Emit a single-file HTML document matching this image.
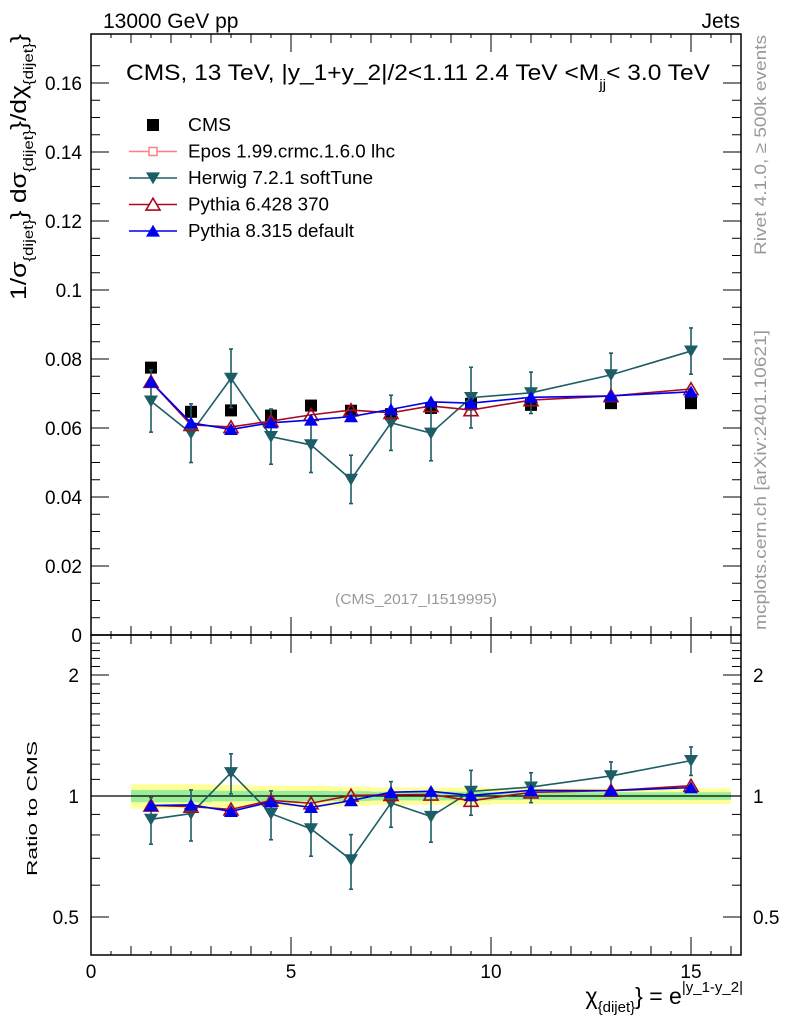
<!DOCTYPE html>
<html><head><meta charset="utf-8"><style>
html,body{margin:0;padding:0;background:#fff}
svg{display:block;font-family:"Liberation Sans",sans-serif}
</style></head><body>
<svg id="c" width="786" height="1024" viewBox="0 0 786 1024" xmlns="http://www.w3.org/2000/svg">
<g id="bands"></g>
<g id="axes"></g>
<g id="marks"></g>
<g id="texts">
<text x="103" y="28" font-size="21">13000 GeV pp</text>
<text x="740" y="28" font-size="21" text-anchor="end">Jets</text>
<text x="126" y="80" font-size="22" textLength="584" lengthAdjust="spacingAndGlyphs">CMS, 13 TeV, |y_1+y_2|/2&lt;1.11 2.4 TeV &lt;M<tspan font-size="14" dy="9">jj</tspan><tspan dy="-9">&lt; 3.0 TeV</tspan></text>
<text x="416" y="604" font-size="15" fill="#999" text-anchor="middle" textLength="162" lengthAdjust="spacingAndGlyphs">(CMS_2017_I1519995)</text>
<text transform="translate(766,255) rotate(-90)" font-size="17" fill="#999" textLength="220" lengthAdjust="spacingAndGlyphs">Rivet 4.1.0, ≥ 500k events</text>
<text transform="translate(766,630) rotate(-90)" font-size="17" fill="#999" textLength="300" lengthAdjust="spacingAndGlyphs">mcplots.cern.ch [arXiv:2401.10621]</text>
<text transform="translate(26,300) rotate(-90)" font-size="22" textLength="266" lengthAdjust="spacingAndGlyphs">1/σ<tspan font-size="14" dy="7">{dijet}</tspan><tspan dy="-7">} dσ</tspan><tspan font-size="14" dy="7">{dijet}</tspan><tspan dy="-7">}/dχ</tspan><tspan font-size="14" dy="7">{dijet}</tspan><tspan dy="-7">}</tspan></text>
<text transform="translate(37,876) rotate(-90)" font-size="15" textLength="135" lengthAdjust="spacingAndGlyphs">Ratio to CMS</text>
<text x="743" y="1004" font-size="23" text-anchor="end">χ<tspan font-size="15" dy="8">{dijet}</tspan><tspan dy="-8">} = e</tspan><tspan font-size="15" dy="-12">|y_1-y_2|</tspan></text>
</g>
<g id="legend"></g>
</svg>
<script>
const xs=[1.5,2.5,3.5,4.5,5.5,6.5,7.5,8.5,9.5,11,13,15];
const binLo=[1,2,3,4,5,6,7,8,9,10,12,14];
const binHi=[2,3,4,5,6,7,8,9,10,12,14,16];
const cms=[0.0775,0.0647,0.0651,0.0636,0.0665,0.065,0.064,0.0658,0.067,0.0667,0.0672,0.0672];
const bandY=[0.07,0.07,0.065,0.06,0.06,0.055,0.05,0.05,0.05,0.045,0.045,0.045];
const bandG=[0.035,0.035,0.03,0.03,0.03,0.028,0.025,0.025,0.025,0.022,0.022,0.022];
const herwig=[0.0678,0.0585,0.0744,0.0575,0.0551,0.0451,0.0615,0.0585,0.0688,0.0702,0.0754,0.0823];
const herwigErr=[0.009,0.0085,0.0085,0.008,0.008,0.007,0.008,0.008,0.0088,0.006,0.0063,0.0067];
const py6=[0.0734,0.0609,0.0603,0.062,0.0638,0.0652,0.0644,0.0664,0.0652,0.0681,0.0693,0.0713];
const py8=[0.0734,0.0615,0.0596,0.0615,0.0623,0.0633,0.0654,0.0676,0.0672,0.0689,0.0693,0.0705];
const mainTicks=[0,0.02,0.04,0.06,0.08,0.1,0.12,0.14,0.16];
const mainTickLabels=["0","0.02","0.04","0.06","0.08","0.1","0.12","0.14","0.16"];
const ratioTicks=[0.5,1,2];
const ratioTickLabels=["0.5","1","2"];
const xTicks=[0,5,10,15];
const xTickLabels=["0","5","10","15"];

const L=91,R=741,T=34,MB=635,RB=955;
const NS="http://www.w3.org/2000/svg";
const X=v=>L+v*40;
const Y=v=>MB-v*3450;
const RY=r=>796-Math.log2(r)*121;
function mk(tag,attrs,parent){const e=document.createElementNS(NS,tag);for(const k in attrs)e.setAttribute(k,attrs[k]);parent.appendChild(e);return e;}
const axes=document.getElementById('axes'),marks=document.getElementById('marks'),bands=document.getElementById('bands'),leg=document.getElementById('legend');

for(let i=0;i<xs.length;i++){
  let b=mk('rect',{x:X(binLo[i]),y:RY(1+bandY[i]),width:X(binHi[i])-X(binLo[i]),height:RY(1-bandY[i])-RY(1+bandY[i]),fill:'#ffff99'},bands);
  
  
  let g=mk('rect',{x:X(binLo[i]),y:RY(1+bandG[i]),width:X(binHi[i])-X(binLo[i]),height:RY(1-bandG[i])-RY(1+bandG[i]),fill:'#99ee99'},bands);
  
  
}
let one=mk('line',{x1:L,x2:R,y1:RY(1),y2:RY(1),stroke:'#000','stroke-width':1.3},bands);



for(const [t,b,n] of [[T,MB,'main-frame'],[MB,RB,'ratio-frame']]){
  let f=mk('rect',{x:L,y:t,width:R-L,height:b-t,fill:'none',stroke:'#000','stroke-width':1.5},axes);
  
  
}
for(let v=0;v<=0.17;v+=0.005){
  const y=Y(v);const major=Math.abs(v/0.02-Math.round(v/0.02))<1e-6;const len=major?18:9;
  mk('line',{x1:L,x2:L+len,y1:y,y2:y,stroke:'#000'},axes);
  mk('line',{x1:R,x2:R-len,y1:y,y2:y,stroke:'#000'},axes);
}
mainTicks.forEach((v,i)=>{
  let t=mk('text',{x:L-9,y:Y(v)+7,'font-size':19,'text-anchor':'end'},axes);t.textContent=mainTickLabels[i];
  
  
});
for(let v=0.4;v<=2.5;v+=0.1){
  const vv=Math.round(v*10)/10;if(vv<0.4)continue;const y=RY(vv);if(y<MB||y>RB)continue;
  const major=(vv===0.5||vv===1||vv===2);const len=major?18:9;
  mk('line',{x1:L,x2:L+len,y1:y,y2:y,stroke:'#000'},axes);
  mk('line',{x1:R,x2:R-len,y1:y,y2:y,stroke:'#000'},axes);
}
ratioTicks.forEach((v,i)=>{
  let t=mk('text',{x:L-12,y:RY(v)+7,'font-size':19,'text-anchor':'end'},axes);t.textContent=ratioTickLabels[i];
  
  
  let t2=mk('text',{x:R+12,y:RY(v)+7,'font-size':19},axes);t2.textContent=ratioTickLabels[i];
  
  
});
for(let v=0;v<=16.2;v+=0.5){
  const x=X(v);const len=(v%5===0)?18:(v%1===0?9:4);
  for(const [yb,dir] of [[MB,-1],[T,1],[RB,-1],[MB,1]]) mk('line',{x1:x,x2:x,y1:yb,y2:yb+dir*len,stroke:'#000'},axes);
}
xTicks.forEach((v,i)=>{
  let t=mk('text',{x:X(v),y:RB+23,'font-size':19,'text-anchor':'middle'},axes);t.textContent=xTickLabels[i];
  
  
});

function tri(cx,cy,s,down){return down?`${cx-s},${cy-s*0.8} ${cx+s},${cy-s*0.8} ${cx},${cy+s*0.9}`:`${cx-s},${cy+s*0.8} ${cx+s},${cy+s*0.8} ${cx},${cy-s*0.9}`;}
function series(vals,err,color,kind,name,ratio){
  const yf=ratio?(i=>RY(vals[i]/cms[i])):(i=>Y(vals[i]));
  const pts=xs.map((x,i)=>X(x)+','+yf(i)).join(' ');
  let pl=mk('polyline',{points:pts,fill:'none',stroke:color,'stroke-width':1.6},marks);
  
  
  xs.forEach((x,i)=>{
    const cx=X(x),cy=yf(i);
    if(err){
      const y1=ratio?RY((vals[i]+err[i])/cms[i]):Y(vals[i]+err[i]);
      const y2=ratio?RY((vals[i]-err[i])/cms[i]):Y(vals[i]-err[i]);
      mk('line',{x1:cx,x2:cx,y1:y1,y2:y2,stroke:color,'stroke-width':1.6},marks);
      mk('line',{x1:cx-2,x2:cx+2,y1:y1,y2:y1,stroke:color,'stroke-width':1.6},marks);
      mk('line',{x1:cx-2,x2:cx+2,y1:y2,y2:y2,stroke:color,'stroke-width':1.6},marks);
    }
    let p;
    if(kind==='down')p=mk('polygon',{points:tri(cx,cy,7,true),fill:color},marks);
    else if(kind==='openup')p=mk('polygon',{points:tri(cx,cy,7,false),fill:'#fff','fill-opacity':0,stroke:color,'stroke-width':1.6},marks);
    else p=mk('polygon',{points:tri(cx,cy,7,false),fill:color},marks);
    
    
  });
}
xs.forEach((x,i)=>{
  let s=mk('rect',{x:X(x)-6,y:Y(cms[i])-6,width:12,height:12,fill:'#000'},marks);
  
  
});
series(herwig,herwigErr,'#1d5e66','down','herwig',false);
series(py6,null,'#aa0a1e','openup','pythia6',false);
series(py8,null,'#0000ee','up','pythia8',false);
series(herwig,herwigErr,'#1d5e66','down','herwig-ratio',true);
series(py6,null,'#aa0a1e','openup','pythia6-ratio',true);
series(py8,null,'#0000ee','up','pythia8-ratio',true);

const legItems=[['CMS','#000','sq',43],['Epos 1.99.crmc.1.6.0 lhc','#ff8080','cross',207],['Herwig 7.2.1 softTune','#1d5e66','down',185],['Pythia 6.428 370','#aa0a1e','openup',141],['Pythia 8.315 default','#0000ee','up',166]];
legItems.forEach((it,i)=>{
  const y=125+i*26.5;const cx=153;
  const g=mk('g',{},leg);
  
  
  if(it[2]==='sq')mk('rect',{x:cx-6,y:y-6,width:12,height:12,fill:'#000'},g);
  else{
    mk('line',{x1:129,x2:177,y1:y,y2:y,stroke:it[1],'stroke-width':1.6},g);
    if(it[2]==='cross')mk('rect',{x:cx-4,y:y-4,width:8,height:8,fill:'#fff',stroke:it[1],'stroke-width':1.5},g);
    else if(it[2]==='down')mk('polygon',{points:tri(cx,y,7,true),fill:it[1]},g);
    else if(it[2]==='openup')mk('polygon',{points:tri(cx,y,7,false),fill:'#fff',stroke:it[1],'stroke-width':1.6},g);
    else mk('polygon',{points:tri(cx,y,7,false),fill:it[1]},g);
  }
  const t=mk('text',{x:188,y:y+6,'font-size':18,textLength:it[3],lengthAdjust:'spacingAndGlyphs'},g);t.textContent=it[0];
});
</script>
</body></html>
